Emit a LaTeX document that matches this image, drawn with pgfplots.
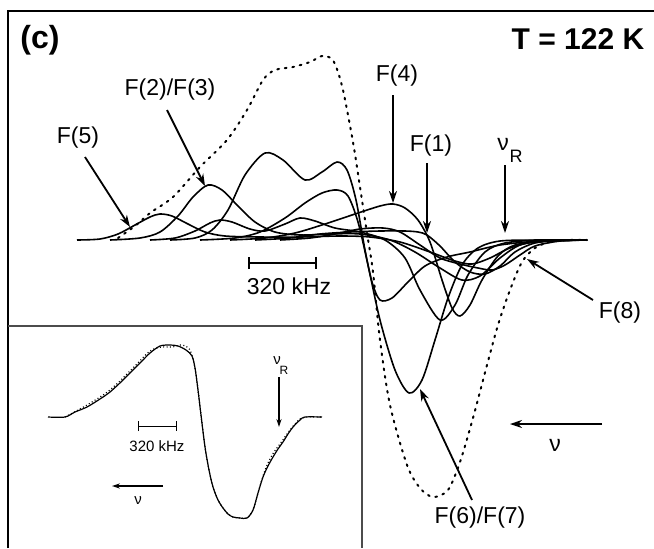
\documentclass[border=0pt]{standalone}
\usepackage{pgfplots}
\pgfplotsset{compat=1.18}
\usepackage{fontspec}
\setmainfont{Liberation Sans}
\usetikzlibrary{arrows.meta}
\begin{document}
\begin{tikzpicture}
\begin{axis}[
  width=327pt, height=274pt, scale only axis,
  xmin=0, xmax=654, ymin=0, ymax=548, y dir=reverse,
  hide axis, clip=false,
  comp/.style={black, solid, line width=0.8pt, smooth, no markers, line join=round},
]
% ---- main panel: component spectra ----
\addplot[comp] coordinates {(77,240)(100,239)(118,234)(135,225)(150,217)(160,214)(172,216)(188,224)(205,232)(225,236)(260,237)(300,237)(340,236)(370,237)(400,242)(430,252)(455,261)(472,264)(490,258)(510,248)(535,242)(587,240)};
\addplot[comp] coordinates {(110,240)(140,238)(160,232)(178,216)(193,197)(208,185)(222,190)(238,206)(255,222)(275,232)(300,235)(330,234)(360,234)(390,240)(415,252)(440,268)(462,280)(480,276)(500,258)(520,245)(545,241)(587,240)};
\addplot[comp] coordinates {(150,240)(175,238)(195,231)(210,223)(220,220)(232,222)(250,229)(265,231)(285,224)(300,218)(315,221)(335,228)(360,232)(385,240)(405,258)(420,290)(440,320)(455,305)(468,275)(485,252)(505,243)(540,240)(587,240)};
\addplot[comp] coordinates {(170,240)(195,238)(212,230)(228,210)(245,175)(265,153)(283,160)(305,180)(322,172)(337,162)(347,170)(356,200)(365,250)(372,282)(380,300)(392,298)(408,282)(425,266)(447,257)(470,252)(500,245)(540,241)(587,240)};
\addplot[comp] coordinates {(200,240)(235,238)(260,232)(285,218)(305,203)(322,193)(337,190)(348,196)(358,222)(368,265)(380,320)(395,370)(409,393)(422,380)(435,340)(448,298)(462,265)(478,248)(500,241)(540,240)(587,240)};
\addplot[comp] coordinates {(230,240)(265,238)(295,233)(325,224)(355,214)(380,206)(393,204)(405,208)(418,220)(430,242)(442,280)(452,308)(460,316)(470,305)(482,280)(498,256)(515,245)(545,241)(587,240)};
\addplot[comp] coordinates {(255,240)(290,238)(320,234)(350,232)(380,231)(405,231)(418,232)(427,235)(440,246)(455,262)(470,272)(485,274)(500,266)(515,252)(535,243)(565,240)(587,240)};
\addplot[comp] coordinates {(280,240)(310,238)(335,234)(360,229)(383,228)(400,232)(420,245)(440,258)(460,264)(478,268)(492,270)(505,265)(520,255)(535,246)(560,241)(587,240)};
% ---- total (dotted) ----
\addplot[comp, line width=1pt, dash pattern=on 0.9pt off 2.9pt, line cap=round] coordinates {(118,238)(135,226)(150,213)(173,197)(200,167)(227,140)(247,110)(263,80)(275,70)(293,67)(310,62)(322,56)(332,59)(338,72)(343,90)(348,115)(354,148)(360,187)(367,233)(373,272)(380,340)(390,405)(407,465)(420,488)(433,497)(448,490)(460,462)(473,418)(487,365)(498,325)(510,290)(522,262)(535,248)(550,242)(570,240)(587,240)};
% ---- inset spectra ----
\addplot[comp, line width=0.6pt] coordinates {(48,417)(65,417)(75,412)(87,407)(100,399)(110,392)(122,381)(133,370)(142,361)(150,353)(160,346)(170,345)(178,346)(186,350)(192,356)(195,368)(198,390)(201,415)(205,447)(209,470)(213,487)(218,500)(223,508)(228,514)(233,517)(240,518)(247,518)(253,510)(258,493)(263,477)(268,466)(273,457)(278,449)(283,442)(288,434)(293,427)(300,420)(305,417)(322,417)};
\addplot[comp, line width=0.6pt, dash pattern=on 0.5pt off 1.2pt] coordinates {(65,417)(87,405)(110,390)(133,368)(150,351)(162,347)(172,347)(182,345)(190,350)(195,368)(198,390)(201,415)(205,447)(209,470)(213,487)(218,500)(223,508)(228,514)(233,517)(240,518)(247,518)(253,510)(258,493)(263,476)(268,463)(274,452)(280,444)(287,434)(294,425)(300,419)(305,417)(322,417)};
% ---- frames ----
\draw[line width=1pt] (axis cs:8,548) -- (axis cs:8,11) -- (axis cs:654,11);
\draw[line width=0.8pt, black!70] (axis cs:8,326) -- (axis cs:362,326) -- (axis cs:362,548);
% ---- main annotations ----
\tikzset{lab/.style={font=\fontsize{11.5}{13}\selectfont, inner sep=0pt},
         arr/.style={line width=0.9pt, -{Stealth[length=6pt,width=4pt]}}}
\node[font=\fontsize{16}{18}\selectfont\bfseries, inner sep=0pt] at (axis cs:40,40) {(c)};
\node[font=\fontsize{15}{17}\selectfont\bfseries, inner sep=0pt] at (axis cs:578,39) {T = 122 K};
\node[lab] at (axis cs:78,138) {F(5)};
\draw[arr] (axis cs:85,157) -- (axis cs:130,227);
\node[lab] at (axis cs:170,90) {F(2)/F(3)};
\draw[arr] (axis cs:167,110) -- (axis cs:205,186);
\node[lab] at (axis cs:397,76) {F(4)};
\draw[arr] (axis cs:393,95) -- (axis cs:393,203);
\node[lab] at (axis cs:431,146) {F(1)};
\draw[arr] (axis cs:427,163) -- (axis cs:427,233);
\node[lab] at (axis cs:503,144) {ν};
\node[lab, font=\fontsize{9}{10}\selectfont] at (axis cs:516,156) {R};
\draw[arr] (axis cs:505,165) -- (axis cs:505,233);
\node[lab] at (axis cs:620,313) {F(8)};
\draw[arr] (axis cs:593,300) -- (axis cs:527,259);
\node[lab] at (axis cs:480,518) {F(6)/F(7)};
\draw[arr] (axis cs:472,500) -- (axis cs:420,389);
\draw[arr] (axis cs:602,424) -- (axis cs:510,424);
\node[lab] at (axis cs:555,445) {ν};
\draw[line width=0.8pt, |-|] (axis cs:248,263) -- (axis cs:317,263);
\node[lab] at (axis cs:289,286) {320 kHz};
% ---- inset annotations ----
\tikzset{slab/.style={font=\fontsize{7.5}{9}\selectfont, inner sep=0pt},
         sarr/.style={line width=0.6pt, -{Stealth[length=4pt,width=2.6pt]}}}
\node[slab] at (axis cs:277,361) {ν};
\node[slab, font=\fontsize{6}{7}\selectfont] at (axis cs:284,370) {R};
\draw[sarr] (axis cs:279,377) -- (axis cs:279,427);
\draw[line width=0.5pt, |-|] (axis cs:138,426) -- (axis cs:177,426);
\node[slab] at (axis cs:157,446) {320 kHz};
\draw[sarr] (axis cs:163,486) -- (axis cs:112,486);
\node[slab] at (axis cs:138,501) {ν};
\end{axis}
\pgfresetboundingbox
\path (0,0) rectangle (327pt,274pt);
\end{tikzpicture}
\end{document}
